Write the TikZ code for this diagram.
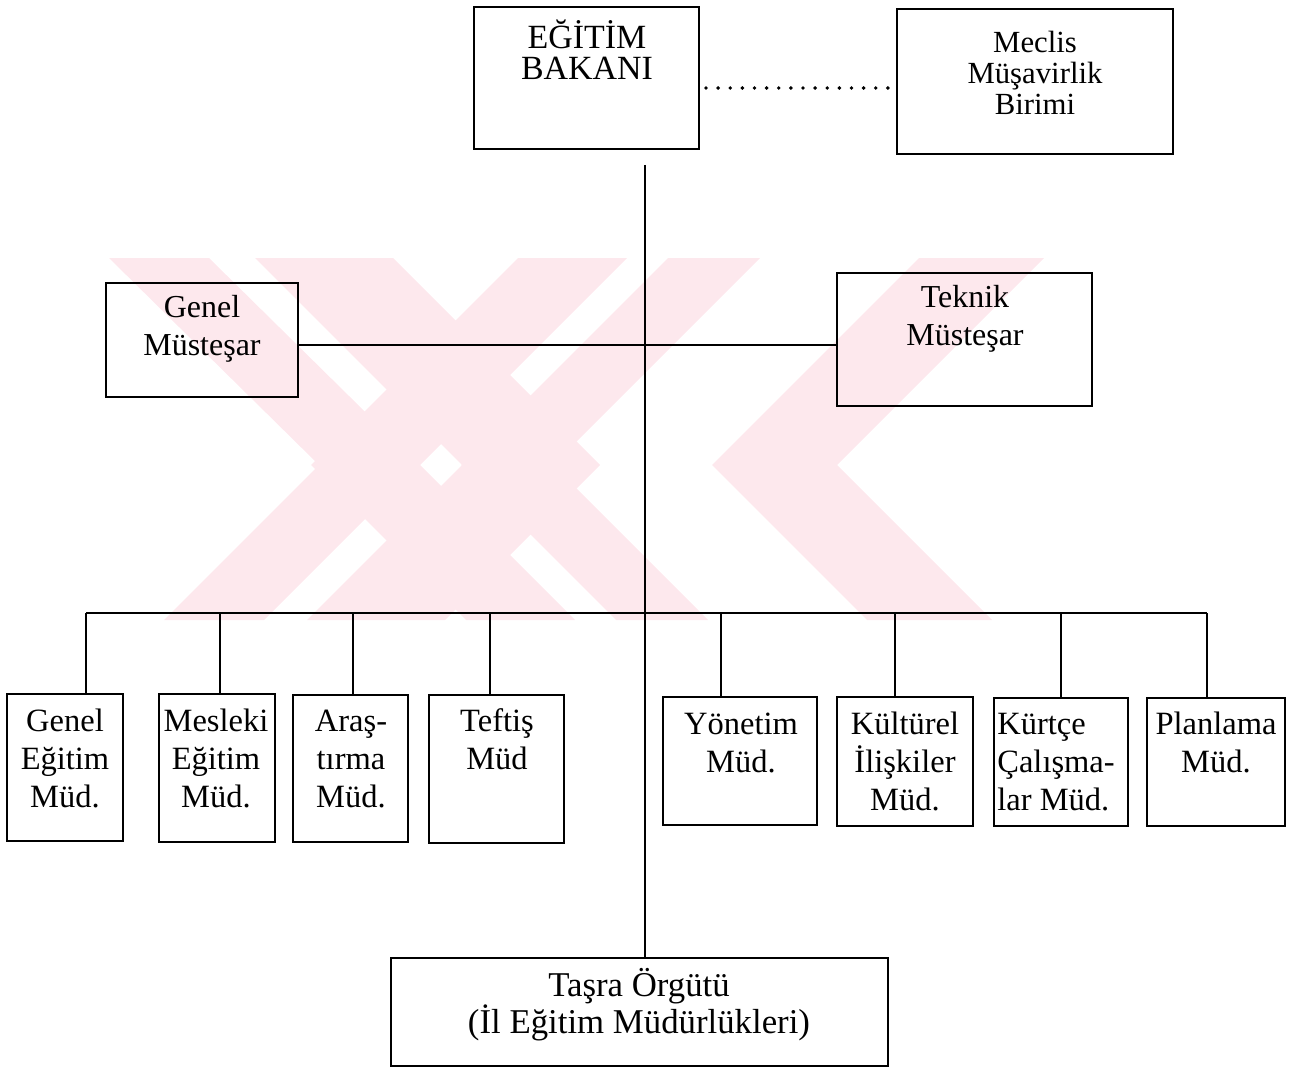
\documentclass[tikz,border=0pt]{standalone}
\usepackage{fontspec}
\setmainfont{Liberation Serif}
\usetikzlibrary{fit,calc}
\definecolor{wmpink}{RGB}{253,232,237}
\begin{document}
\begin{tikzpicture}[x=0.02cm,y=-0.02cm,
  box/.style={draw, line width=1.5pt, inner sep=0pt, outer sep=0pt},
  conn/.style={line width=1.3pt},
  dotline/.style={line width=2.2pt, line cap=round, dash pattern=on 0pt off 6.9pt},
  wmark/.style={fill=wmpink, draw=none},
  lbltop/.style={align=center, inner sep=0pt, anchor=base, font=\fontsize{17.5}{17.6}\selectfont},
  lblmid/.style={align=center, inner sep=0pt, anchor=base, font=\fontsize{18.2}{21.4}\selectfont},
  lblbot/.style={align=center, inner sep=0pt, anchor=base, font=\fontsize{18.5}{21.6}\selectfont},
  lbltas/.style={align=center, inner sep=0pt, anchor=base, font=\fontsize{19.8}{21}\selectfont}]
\useasboundingbox (0,0) rectangle (1309,1068);

% faint background watermark
\fill[wmark] (109,258) -- (209,258) -- (419,465) -- (264,620) -- (164,620) -- (319,465) -- cycle;
\fill[wmark] (255,258) -- (393,258) -- (600,465) -- (445,620) -- (307,620) -- (462,465) -- cycle;
\fill[wmark] (518,258) -- (627,258) -- (420,465) -- (575,620) -- (466,620) -- (311,465) -- cycle;
\fill[wmark] (668,258) -- (760,258) -- (553,465) -- (708,620) -- (616,620) -- (461,465) -- cycle;
\fill[wmark] (919,258) -- (1044,258) -- (837,465) -- (992,620) -- (867,620) -- (712,465) -- cycle;

% top level (text nodes are placed by the baseline of their last line)
\node[box, fit={(474,7) (699,149)}] (bakan) {};
\node[lbltop, font=\fontsize{19.3}{18}\selectfont] (bakant) at (587,80) {EĞİTİM\\BAKANI};
\node[box, fit={(897,9) (1173,154)}] (meclis) {};
\node[lbltop] (meclist) at (1035,114) {Meclis\\Müşavirlik\\Birimi};

% middle level
\node[box, fit={(106,283) (298,397)}] (gm) {};
\node[lblmid] (gmt) at (202,355) {Genel\\Müsteşar};
\node[box, fit={(837,273) (1092,406)}] (tm) {};
\node[lblmid] (tmt) at (965,345) {Teknik\\Müsteşar};

% bottom level
\node[box, fit={(7,694) (123,841)}] (ge) {};
\node[lblbot] (get) at (65,807) {Genel\\Eğitim\\Müd.};
\node[box, fit={(159,694) (275,842)}] (me) {};
\node[lblbot] (met) at (216,807) {Mesleki\\Eğitim\\Müd.};
\node[box, fit={(293,695) (408,842)}] (ar) {};
\node[lblbot] (art) at (351,807) {Araş-\\tırma\\Müd.};
\node[box, fit={(429,695) (564,843)}] (te) {};
\node[lblbot] (tet) at (497,769) {Teftiş\\Müd};
\node[box, fit={(663,697) (817,825)}] (yo) {};
\node[lblbot] (yot) at (741,772) {Yönetim\\Müd.};
\node[box, fit={(837,697) (973,826)}] (ku) {};
\node[lblbot] (kut) at (905,810) {Kültürel\\İlişkiler\\Müd.};
\node[box, fit={(994,698) (1128,826)}] (kc) {};
\node[lblbot, align=left, anchor=base west] (kct) at (997,810) {Kürtçe\\Çalışma-\\lar Müd.};
\node[box, fit={(1147,698) (1285,826)}] (pl) {};
\node[lblbot] (plt) at (1216,772) {Planlama\\Müd.};

% provincial
\node[box, fit={(391,958) (888,1066)}] (tas) {};
\node[lbltas] (tast) at (639,1033) {Taşra Örgütü\\(İl Eğitim Müdürlükleri)};

% connectors
\coordinate (dA) at (706,88);
\coordinate (vtop) at (645,165);
\coordinate (mid) at (645,345);
\coordinate (busL) at (86,613);
\coordinate (busR) at (1207,613);
\coordinate (j2) at (220,613);
\coordinate (j3) at (353,613);
\coordinate (j4) at (490,613);
\coordinate (j5) at (721,613);
\coordinate (j6) at (895,613);
\coordinate (j7) at (1061,613);

\draw[dotline] (dA) -- (meclis.west |- dA);
\draw[conn] (vtop) -- (vtop |- tas.north);
\draw[conn] (gm.east |- mid) -- (tm.west |- mid);
\draw[conn] (busL) -- (busR);
\draw[conn] (busL) -- (busL |- ge.north);
\draw[conn] (j2) -- (j2 |- me.north);
\draw[conn] (j3) -- (j3 |- ar.north);
\draw[conn] (j4) -- (j4 |- te.north);
\draw[conn] (j5) -- (j5 |- yo.north);
\draw[conn] (j6) -- (j6 |- ku.north);
\draw[conn] (j7) -- (j7 |- kc.north);
\draw[conn] (busR) -- (busR |- pl.north);
\end{tikzpicture}
\end{document}
